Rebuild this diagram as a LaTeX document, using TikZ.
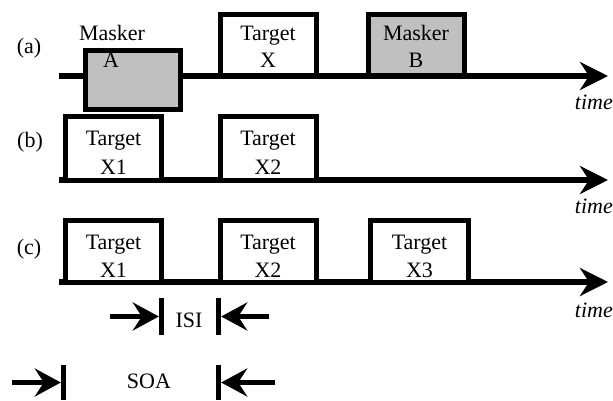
\documentclass[tikz,border=0pt]{standalone}
\usepackage{fontspec}
\setmainfont{Liberation Serif}
\usetikzlibrary{arrows.meta}
\definecolor{maskgray}{HTML}{C0C0C0}
\begin{document}
\begin{tikzpicture}[x=1pt,y=-1pt,
 lbl/.style={font=\fontsize{22}{26}\selectfont, inner sep=0pt, anchor=base},
 tlbl/.style={font=\fontsize{22}{26}\selectfont\itshape, inner sep=0pt, anchor=base east},
 axisline/.style={line width=5.5pt, -{Stealth[length=28pt,width=28pt,inset=9pt]}},
 tbox/.style={line width=5pt, fill=white},
 mbox/.style={line width=5pt, fill=maskgray},
 barnode/.style={rectangle, fill=black, inner sep=0pt, minimum width=5pt},
 dimarrow/.style={line width=5.5pt, -{Stealth[length=26pt,width=28pt,inset=9pt]}}
]
\useasboundingbox (0,0) rectangle (613,401);

% ---- row (a)
\coordinate (a0) at (59,76);
\coordinate (a1) at (608,76);
\draw[axisline] (a0) -- (a1);
\draw[mbox] (85.5,50.5) rectangle (180.5,109.5);
\draw[tbox] (220,14.5) rectangle (316,76);
\draw[mbox] (368.5,14.5) rectangle (464.5,76);
\node[lbl] (la) at (29,54) {(a)};
\node[lbl] (mA1) at (112,41) {Masker};
\node[lbl] (mA2) at (111,68) {A};
\node[lbl] (tX1) at (268,41) {Target};
\node[lbl] (tX2) at (268,68) {X};
\node[lbl] (mB1) at (416,41) {Masker};
\node[lbl] (mB2) at (416,68) {B};
\node[tlbl] (ta) at (613,110) {time};

% ---- row (b)
\coordinate (b0) at (59,180);
\coordinate (b1) at (608,180);
\draw[axisline] (b0) -- (b1);
\draw[tbox] (65.5,116.5) rectangle (161.5,180);
\draw[tbox] (220,116.5) rectangle (316,180);
\node[lbl] (lb) at (30,148) {(b)};
\node[lbl] (bX1a) at (113.5,146) {Target};
\node[lbl] (bX1b) at (113.5,174) {X1};
\node[lbl] (bX2a) at (268,146) {Target};
\node[lbl] (bX2b) at (268,174) {X2};
\node[tlbl] (tb) at (613,213) {time};

% ---- row (c)
\coordinate (c0) at (59,282);
\coordinate (c1) at (608,282);
\draw[axisline] (c0) -- (c1);
\draw[tbox] (65.5,220.5) rectangle (161.5,282);
\draw[tbox] (220,220.5) rectangle (316,282);
\draw[tbox] (370.5,220.5) rectangle (468.5,282);
\node[lbl] (lc) at (29,254) {(c)};
\node[lbl] (cX1a) at (113.5,249) {Target};
\node[lbl] (cX1b) at (113.5,277) {X1};
\node[lbl] (cX2a) at (268,249) {Target};
\node[lbl] (cX2b) at (268,277) {X2};
\node[lbl] (cX3a) at (419.5,249) {Target};
\node[lbl] (cX3b) at (419.5,277) {X3};
\node[tlbl] (tc) at (613,317) {time};

% ---- ISI
\node[barnode, minimum height=37pt] (isiL) at (161.5,316.5) {};
\node[barnode, minimum height=37pt] (isiR) at (218.5,316.5) {};
\coordinate (isiLs) at (110,316.5);
\coordinate (isiRs) at (269,316.5);
\draw[dimarrow] (isiLs) -- (isiL.west);
\draw[dimarrow] (isiRs) -- (isiR.east);
\node[lbl] (isi) at (189,327) {ISI};

% ---- SOA
\node[barnode, minimum height=35pt] (soaL) at (63.5,382.5) {};
\node[barnode, minimum height=35pt] (soaR) at (218.5,382.5) {};
\coordinate (soaLs) at (12,382.5);
\coordinate (soaRs) at (275,382.5);
\draw[dimarrow] (soaLs) -- (soaL.west);
\draw[dimarrow] (soaRs) -- (soaR.east);
\node[lbl] (soa) at (149,388) {SOA};
\end{tikzpicture}
\end{document}
